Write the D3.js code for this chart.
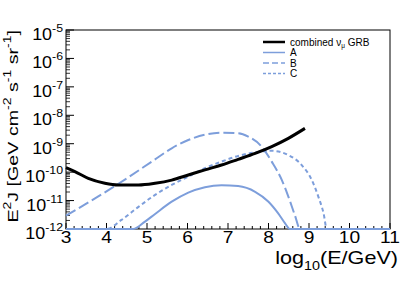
<!DOCTYPE html>
<html>
<head>
<meta charset="utf-8">
<script src="https://cdn.jsdelivr.net/npm/d3@7"></script>
<style>
  body { margin: 0; background: #fff; }
  svg { font-family: "Liberation Sans", Arial, Helvetica, sans-serif; }
</style>
</head>
<body>
<div id="chart"></div>
<script>
/* DATA (x = log10(E/GeV), y = log10(E^2 J)) */
const combinedX = [3, 3.22, 3.55, 3.96, 4.29, 4.79, 5.2, 5.61, 6.02, 6.43, 6.84, 7.25, 7.67, 8.08, 8.49, 8.9];
const combinedY = [-9.84, -9.98, -10.22, -10.39, -10.45, -10.45, -10.39, -10.28, -10.10, -9.92, -9.75, -9.55, -9.34, -9.10, -8.81, -8.46];

const aX = [3, 4.66, 4.95, 5.2, 5.61, 6.02, 6.43, 6.84, 7.25, 7.67, 8.0, 8.24, 8.41, 8.53, 11];
const aY = [-12, -12, -11.74, -11.47, -11.04, -10.72, -10.53, -10.46, -10.49, -10.69, -11.04, -11.45, -11.80, -12, -12];

const bX = [3, 4.25, 5.2, 5.61, 6.02, 6.43, 6.84, 7.25, 7.5, 7.83, 8.08, 8.33, 8.49, 8.65, 8.78, 11];
const bY = [-11.53, -10.45, -9.55, -9.16, -8.87, -8.68, -8.61, -8.63, -8.75, -9.1, -9.63, -10.28, -10.86, -11.51, -12, -12];

const cX = [3, 4.0, 4.37, 4.79, 5.2, 5.61, 6.02, 6.43, 6.84, 7.25, 7.67, 8.08, 8.49, 8.82, 9.07, 9.23, 9.36, 9.44, 11];
const cY = [-12, -12, -11.68, -11.22, -10.80, -10.45, -10.16, -9.86, -9.63, -9.43, -9.30, -9.25, -9.40, -9.75, -10.28, -10.86, -11.45, -12, -12];

const xTicks = [3, 4, 5, 6, 7, 8, 9, 10, 11];
const yTicks = [-12, -11, -10, -9, -8, -7, -6, -5];

/* LAYOUT */
const width = 415, height = 283,
  margin = { top: 30, right: 25, bottom: 54, left: 66 };
const blue = "#7d9edb";
const stretch = 1.2; // text in the reference is a bit wider than it is tall

const svg = d3.select("#chart").append("svg")
  .attr("width", width)
  .attr("height", height);

const xScale = d3.scaleLinear()
  .domain([3, 11])
  .range([margin.left, width - margin.right]);

const yScale = d3.scaleLog()
  .domain([1e-12, 1e-5])
  .range([height - margin.bottom, margin.top]);

const x0 = margin.left, x1 = width - margin.right,
  y0 = height - margin.bottom, y1 = margin.top;

// frame
svg.append("rect")
  .attr("x", x0).attr("y", y1)
  .attr("width", x1 - x0).attr("height", y0 - y1)
  .attr("fill", "none").attr("stroke", "#000").attr("stroke-width", 1);

// x ticks: major at integers, minor every 0.2, pointing up
const xMinor = d3.range(3, 11.001, 0.2);
svg.append("g").selectAll("line")
  .data(xMinor)
  .join("line")
  .attr("x1", d => xScale(d)).attr("x2", d => xScale(d))
  .attr("y1", y0)
  .attr("y2", d => Math.abs(d - Math.round(d)) < 1e-6 ? y0 - 6 : y0 - 3)
  .attr("stroke", "#000");

svg.append("g").selectAll("text")
  .data(xTicks)
  .join("text")
  .attr("transform", d => `translate(${xScale(d)}, ${y0 + 14}) scale(${stretch}, 1)`)
  .attr("text-anchor", "middle")
  .attr("font-size", 16)
  .text(d => d);

// y ticks: log decades + minor 2..9, pointing right
const yMinor = [];
for (let e = -12; e < -5; e++) {
  for (let m = 2; m <= 9; m++) yMinor.push(m * Math.pow(10, e));
}
svg.append("g").selectAll("line.minor")
  .data(yMinor)
  .join("line")
  .attr("x1", x0).attr("x2", x0 + 4)
  .attr("y1", d => yScale(d)).attr("y2", d => yScale(d))
  .attr("stroke", "#000").attr("stroke-width", 0.8);
svg.append("g").selectAll("line.major")
  .data(yTicks)
  .join("line")
  .attr("x1", x0).attr("x2", x0 + 8)
  .attr("y1", d => yScale(Math.pow(10, d))).attr("y2", d => yScale(Math.pow(10, d)))
  .attr("stroke", "#000");

const yLab = svg.append("g").selectAll("text")
  .data(yTicks)
  .join("text")
  .attr("transform", d => `translate(${x0 - 3}, ${yScale(Math.pow(10, d)) + 10}) scale(1.12, 1)`)
  .attr("text-anchor", "end")
  .attr("font-size", 16);
yLab.append("tspan").text("10");
yLab.append("tspan").attr("font-size", 11).attr("dy", -8).text(d => d);

// axis titles
svg.append("text")
  .attr("transform", `translate(398, 264) scale(${stretch}, 1)`)
  .attr("text-anchor", "end")
  .attr("font-size", 18)
  .call(t => {
    t.append("tspan").text("log");
    t.append("tspan").attr("font-size", 12).attr("dy", 6).text("10");
    t.append("tspan").attr("dy", -6).text("(E/GeV)");
  });

svg.append("text")
  .attr("transform", `translate(18, ${y1}) rotate(-90) scale(1.27, 1)`)
  .attr("text-anchor", "end")
  .attr("font-size", 15.5)
  .call(t => {
    t.append("tspan").text("E");
    t.append("tspan").attr("font-size", 11).attr("dy", -7).text("2");
    t.append("tspan").attr("dy", 7).text("J [GeV cm");
    t.append("tspan").attr("font-size", 11).attr("dy", -7).text("-2");
    t.append("tspan").attr("dy", 7).text(" s");
    t.append("tspan").attr("font-size", 11).attr("dy", -7).text("-1");
    t.append("tspan").attr("dy", 7).text(" sr");
    t.append("tspan").attr("font-size", 11).attr("dy", -7).text("-1");
    t.append("tspan").attr("dy", 7).text("]");
  });

// curves
const line = d3.line()
  .x(d => xScale(d[0]))
  .y(d => yScale(Math.pow(10, d[1])))
  .curve(d3.curveMonotoneX);

const series = [
  { name: "A", pts: d3.zip(aX, aY), color: blue, w: 2, dash: null },
  { name: "B", pts: d3.zip(bX, bY), color: blue, w: 2, dash: "11,4" },
  { name: "C", pts: d3.zip(cX, cY), color: blue, w: 2, dash: "4,3" },
  { name: "combined", pts: d3.zip(combinedX, combinedY), color: "#000", w: 3, dash: null }
];

svg.append("g").selectAll("path")
  .data(series)
  .join("path")
  .attr("d", d => line(d.pts))
  .attr("fill", "none")
  .attr("stroke", d => d.color)
  .attr("stroke-width", d => d.w)
  .attr("stroke-dasharray", d => d.dash);

// legend
const legendItems = [series[3], series[0], series[1], series[2]];
const leg = svg.append("g").selectAll("g")
  .data(legendItems)
  .join("g")
  .attr("transform", (d, i) => `translate(263, ${42 + i * 10.5})`);

leg.append("line")
  .attr("x1", 0).attr("x2", 22)
  .attr("stroke", d => d.color)
  .attr("stroke-width", d => d.name === "combined" ? 2.5 : 1.5)
  .attr("stroke-dasharray", d => d.name === "B" ? "6,3" : d.name === "C" ? "3,2" : null);

leg.append("text")
  .attr("x", 27)
  .attr("y", 3.5)
  .attr("font-size", 10)
  .each(function (d) {
    const t = d3.select(this);
    if (d.name === "combined") {
      t.append("tspan").text("combined \u03bd");
      t.append("tspan").attr("font-size", 6.5).attr("dy", 2.5).text("\u03bc");
      t.append("tspan").attr("dy", -2.5).text(" GRB");
    } else {
      t.text(d.name);
    }
  });
</script>
</body>
</html>
